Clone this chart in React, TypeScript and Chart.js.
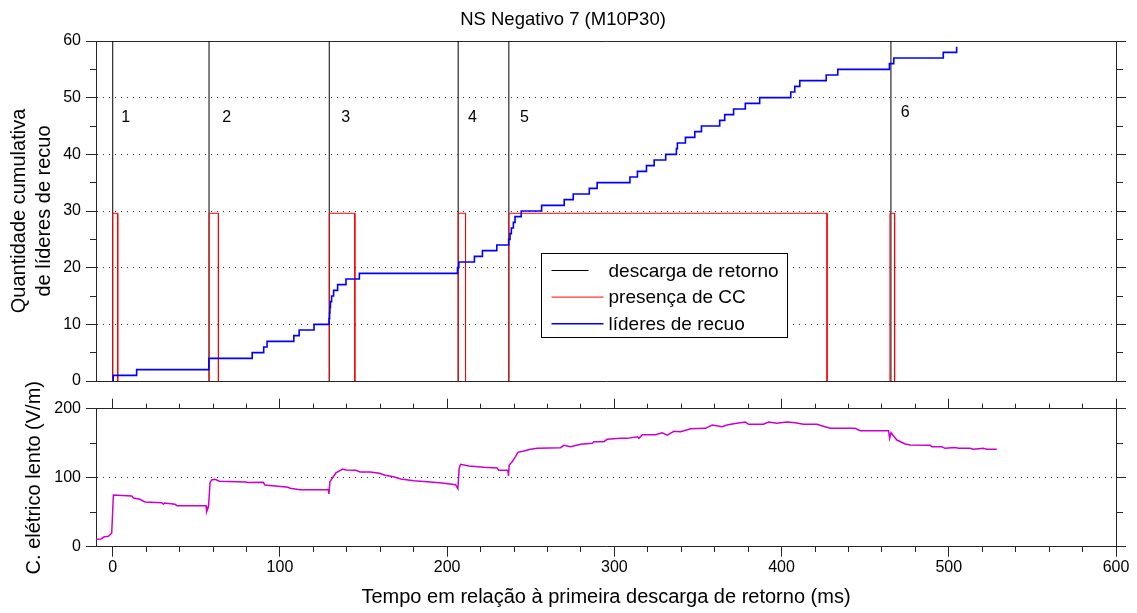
import React, { useEffect, useRef } from 'react';
import { Chart, registerables } from 'chart.js';

Chart.register(...registerables);

const FONT = "'Liberation Sans', Arial, Helvetica, sans-serif";
const INK = '#000000';
const FRAME = '#262626';
const GRID = '#303030';
const CLEAR = 'rgba(0,0,0,0)';

// ---------- data ----------
const chartTitle = 'NS Negativo 7 (M10P30)';
const timeMin = -10;
const timeMax = 600;
const countMin = 0;
const countMax = 60;
const fieldMin = 0;
const fieldMax = 200;

// return strokes (ms)
const strokeTimes = [0, 57.6, 129.5, 206.6, 236.9, 465.4];
const strokeNames = ['1', '2', '3', '4', '5', '6'];
const strokeNameTimes = [7.8, 68.1, 139.3, 215.2, 246.3, 474.0];
const strokeNameLevels = [46.5, 46.5, 46.5, 46.5, 46.5, 47.4];

// continuing current intervals (ms)
const ccStarts = [0, 57.6, 129.5, 206.6, 236.9, 464.8];
const ccEnds = [3.0, 63.2, 144.8, 211.0, 427.2, 467.6];
const ccLevel = 29.6;

// cumulative recoil leaders
const leaderTimes = [
  0, 0.3, 14.3, 57.5, 83.4, 90.3, 92.3, 108.3, 111.5, 120.4, 129.4, 129.7, 129.9, 130.2, 130.9,
  132.1, 134.5, 139.5, 147.5, 206.2, 207.0, 216.3, 221.1, 229.7, 236.8, 237.6, 238.4, 239.6,
  240.6, 244.3, 256.5, 270.0, 275.4, 285.0, 289.7, 309.3, 313.8, 319.2, 323.8, 330.7, 337.1,
  337.7, 342.5, 348.1, 352.1, 363.0, 366.0, 371.3, 378.3, 386.9, 405.5, 407.9, 410.9, 426.7,
  433.6, 464.5, 467.1, 496.7, 504.7,
];
const leaderCounts = [
  0, 1, 2, 4, 5, 6, 7, 8, 9, 10, 11, 12, 13, 14, 15,
  16, 17, 18, 19, 20, 21, 22, 23, 24, 25, 26, 27, 28,
  29, 30, 31, 32, 33, 34, 35, 36, 37, 38, 39, 40, 41,
  42, 43, 44, 45, 46, 47, 48, 49, 50, 51, 52, 53, 54,
  55, 56, 57, 58, 59,
];

// slow electric field (V/m)
const fieldTimes = [
  -10, -7, -5, -2.6, -0.6, 0.4,
  11.4, 12.4, 16.3, 19.3, 29.3, 30.3, 31.0, 37.3, 38.4, 55.8, 56.2, 57.3,
  58.2, 59.2, 61.2, 63.8, 79.7, 80.5, 90.0, 91.0, 105.0, 106.0, 112.0, 128.9, 129.3,
  129.9, 131.9, 133.5, 137.5, 139.5, 145.5, 147.9, 153.9, 159.5, 162.9, 167.9, 172.3,
  180.1, 188.1, 197.0, 205.0, 206.4, 207.2, 208.0, 213.0, 222.0, 229.9, 230.9, 236.3, 236.7,
  237.1, 238.9, 240.9, 242.3, 245.9, 249.9, 253.9, 267.8, 269.8, 273.8, 279.8, 286.8, 287.8,
  293.7, 295.7, 303.7, 307.7, 313.7, 314.7, 316.7, 324.6, 328.6, 331.6, 335.6, 339.6, 345.6,
  354.5, 358.5, 364.4, 367.4, 371.4, 378.3, 380.3, 389.2, 392.2, 397.2, 403.2, 408.1, 413.1,
  421.1, 424.0, 429.0, 444.0, 447.0, 454.0, 455.0, 464.0, 464.6, 465.4, 469.0, 473.9, 476.9,
  488.9, 489.9, 495.8, 497.8, 503.8, 505.8, 512.8, 514.8, 520.7, 522.7, 528.7,
];
const fieldValues = [
  10.7, 11.2, 14.3, 15.0, 19.5, 75.0,
  73.5, 70.6, 68.7, 64.8, 63.8, 61.5, 63.3, 61.4, 59.5, 59.5, 50.7, 58.0,
  92.8, 96.7, 97.6, 94.8, 93.8, 93.0, 93.3, 89.4, 86.1, 84.6, 82.6, 82.6, 76.4,
  94.2, 101.4, 107.2, 112.6, 111.2, 110.7, 108.3, 108.3, 106.4, 103.5, 101.4, 98.1,
  95.7, 94.2, 92.3, 89.9, 84.1, 113.6, 119.4, 117.0, 115.1, 114.1, 110.7, 110.7, 102.5,
  118.4, 123.2, 130.4, 136.8, 138.7, 141.2, 142.6, 143.5, 146.9, 144.9, 148.4, 149.9, 152.2,
  152.2, 155.6, 157.1, 157.0, 159.4, 157.0, 162.3, 162.3, 165.2, 161.8, 167.2, 166.7, 171.0,
  171.5, 176.4, 173.9, 176.4, 178.3, 180.7, 177.4, 177.4, 180.7, 178.8, 180.7, 179.6, 177.4,
  177.4, 175.4, 171.6, 171.6, 168.1, 168.1, 168.0, 168.0, 157.1, 165.2, 154.6, 148.8, 147.4,
  146.9, 144.9, 144.9, 142.6, 143.8, 142.6, 142.6, 141.2, 142.6, 141.2, 141.2,
];

const seriesLabels = ['descarga de retorno', 'presença de CC', 'líderes de recuo'];
const countAxisTitle = ['Quantidade cumulativa', 'de líderes de recuo'];
const fieldAxisTitle = 'C. elétrico lento (V/m)';
const timeAxisTitle = 'Tempo em relação à primeira descarga de retorno (ms)';

// ---------- helpers ----------
const isMult = (v: any, m: number) => Math.abs(Number(v) / m - Math.round(Number(v) / m)) < 1e-6;

// outer-first tick lines (left / top) vs inner-first (right / bottom)
const minorDash = (outerFirst: boolean, len: number, short: number) =>
  outerFirst ? [0, len - short, short, 300] : [short, 300];

function frameTicks(major: number, outerFirst: boolean, len: number, short: number) {
  return (c: any) => (c.tick && isMult(c.tick.value, major) ? [] : minorDash(outerFirst, len, short));
}

const strokeData: any[] = [];
strokeTimes.forEach((t) => {
  strokeData.push({ x: t, y: countMin }, { x: t, y: countMax }, { x: t, y: null });
});
const ccData: any[] = [];
ccStarts.forEach((s, i) => {
  ccData.push({ x: s, y: 0 }, { x: s, y: ccLevel }, { x: ccEnds[i], y: ccLevel }, { x: ccEnds[i], y: 0 }, { x: ccEnds[i], y: null });
});
const leaderData = leaderTimes.map((t, i) => ({ x: t, y: leaderCounts[i] }));
const fieldData = fieldTimes.map((t, i) => ({ x: t, y: fieldValues[i] }));

const strokeNamePlugin = {
  id: 'strokeNames',
  afterDatasetsDraw(chart: any) {
    const { ctx, scales } = chart;
    ctx.save();
    ctx.font = `16px ${FONT}`;
    ctx.fillStyle = INK;
    ctx.textAlign = 'center';
    ctx.textBaseline = 'middle';
    strokeNames.forEach((n, i) => {
      ctx.fillText(n, scales.x.getPixelForValue(strokeNameTimes[i]), scales.y.getPixelForValue(strokeNameLevels[i]));
    });
    ctx.restore();
  },
};

const boxLegendPlugin = {
  id: 'boxLegend',
  afterDatasetsDraw(chart: any) {
    const { ctx, chartArea: a } = chart;
    const x0 = Math.round(a.left + 445) + 0.5;
    const y0 = Math.round(a.top + 212) + 0.5;
    const w = 246;
    const h = 84;
    ctx.save();
    ctx.fillStyle = '#ffffff';
    ctx.fillRect(x0, y0, w, h);
    ctx.strokeStyle = INK;
    ctx.lineWidth = 1;
    ctx.strokeRect(x0, y0, w, h);
    ctx.font = `19px ${FONT}`;
    ctx.textBaseline = 'middle';
    ctx.textAlign = 'left';
    const sampleEnds = [47, 62, 62];
    chart.data.datasets.forEach((ds: any, i: number) => {
      const y = y0 + 17 + i * 26.6;
      ctx.strokeStyle = ds.borderColor;
      ctx.lineWidth = ds.borderWidth;
      ctx.beginPath();
      ctx.moveTo(x0 + 10, y);
      ctx.lineTo(x0 + sampleEnds[i], y);
      ctx.stroke();
      ctx.fillStyle = INK;
      ctx.fillText(ds.label, x0 + 67, y + 1);
    });
    ctx.restore();
  },
};

function timeAxisBare(position: string) {
  return {
    type: 'linear',
    position,
    display: true,
    min: timeMin,
    max: timeMax,
    ticks: { display: false },
    grid: { display: false, drawTicks: false },
    border: { display: true, color: FRAME, width: 1 },
  };
}

const BOTTOM_TOP = 360;
const BOTTOM_H = 613 - BOTTOM_TOP;

export default function App() {
  const topRef = useRef<HTMLCanvasElement | null>(null);
  const botRef = useRef<HTMLCanvasElement | null>(null);

  useEffect(() => {
    Chart.defaults.font.family = FONT;
    Chart.defaults.color = INK;

    const common: any = {
      responsive: false,
      animation: false,
      events: [],
      plugins: { legend: { display: false }, tooltip: { enabled: false } },
    };

    const top = new Chart(topRef.current as HTMLCanvasElement, {
      type: 'line',
      data: {
        datasets: [
          {
            label: seriesLabels[0],
            data: strokeData,
            borderColor: '#000000',
            borderWidth: 1,
            pointRadius: 0,
            order: 2,
            xAxisID: 'x',
            yAxisID: 'y',
          },
          {
            label: seriesLabels[1],
            data: ccData,
            borderColor: '#ff0000',
            borderWidth: 1,
            pointRadius: 0,
            order: 1,
            xAxisID: 'x',
            yAxisID: 'y',
          },
          {
            label: seriesLabels[2],
            data: leaderData,
            borderColor: '#0000ff',
            borderWidth: 1.6,
            pointRadius: 0,
            stepped: 'before',
            order: 0,
            xAxisID: 'x',
            yAxisID: 'y',
          },
        ],
      } as any,
      options: {
        ...common,
        layout: { padding: { left: 0, right: 11, top: 0, bottom: 19 } },
        plugins: {
          ...common.plugins,
          title: {
            display: true,
            text: chartTitle,
            color: INK,
            font: { size: 18.5, weight: 'normal' },
            padding: { top: 9.2, bottom: 9.6 },
          },
        },
        scales: {
          x: timeAxisBare('bottom'),
          x2: timeAxisBare('top'),
          y: {
            type: 'linear',
            position: 'left',
            min: countMin,
            max: countMax,
            afterFit: (s: any) => {
              s.width = 96;
            },
            ticks: {
              stepSize: 5,
              autoSkip: false,
              padding: 5,
              color: INK,
              font: { size: 16 },
              callback: (v: any) => (isMult(v, 10) ? String(v) : ''),
            },
            grid: {
              display: true,
              drawOnChartArea: true,
              drawTicks: true,
              tickLength: 10,
              lineWidth: 1,
              color: (c: any) => {
                const v = c.tick ? c.tick.value : 0;
                return isMult(v, 10) && v > countMin && v < countMax ? GRID : CLEAR;
              },
              tickColor: FRAME,
              tickWidth: 1,
              tickBorderDash: frameTicks(10, true, 10, 6),
            },
            border: { display: true, color: FRAME, width: 1, dash: [1, 5] },
            title: {
              display: true,
              text: countAxisTitle,
              color: INK,
              font: { size: 20, lineHeight: 1.225 },
              padding: { top: 7.25, bottom: 0 },
            },
          },
          y2: {
            type: 'linear',
            position: 'right',
            display: true,
            min: countMin,
            max: countMax,
            ticks: { display: false, stepSize: 5 },
            grid: {
              display: true,
              drawOnChartArea: false,
              drawTicks: true,
              tickLength: 10,
              color: FRAME,
              tickColor: FRAME,
              tickWidth: 1,
              tickBorderDash: frameTicks(10, false, 10, 6),
            },
            border: { display: true, color: FRAME, width: 1 },
          },
        },
      } as any,
      plugins: [strokeNamePlugin, boxLegendPlugin],
    });

    const bottom = new Chart(botRef.current as HTMLCanvasElement, {
      type: 'line',
      data: {
        datasets: [
          {
            label: fieldAxisTitle,
            data: fieldData,
            borderColor: '#cc00cc',
            borderWidth: 1.5,
            pointRadius: 0,
            tension: 0,
            xAxisID: 'x',
            yAxisID: 'y',
          },
        ],
      } as any,
      options: {
        ...common,
        layout: { padding: { left: 0, right: 11, top: 408.7 - BOTTOM_TOP - 10, bottom: 0 } },
        scales: {
          x: {
            type: 'linear',
            position: 'bottom',
            min: timeMin,
            max: timeMax,
            afterFit: (s: any) => {
              s.height = 66.3;
            },
            ticks: {
              stepSize: 20,
              autoSkip: false,
              maxRotation: 0,
              includeBounds: false,
              padding: 1,
              color: INK,
              font: { size: 16 },
              callback: (v: any) => (isMult(v, 100) ? String(v) : ''),
            },
            grid: {
              display: true,
              drawOnChartArea: false,
              drawTicks: true,
              tickLength: 10,
              color: FRAME,
              tickColor: FRAME,
              tickWidth: 1,
              tickBorderDash: frameTicks(100, false, 10, 5),
            },
            border: { display: true, color: FRAME, width: 1 },
            title: {
              display: true,
              text: timeAxisTitle,
              color: INK,
              font: { size: 20 },
              padding: { top: 0, bottom: 4 },
            },
          },
          x2: {
            type: 'linear',
            position: 'top',
            display: true,
            min: timeMin,
            max: timeMax,
            ticks: { display: false, stepSize: 20, includeBounds: false },
            grid: {
              display: true,
              drawOnChartArea: false,
              drawTicks: true,
              tickLength: 10,
              color: FRAME,
              tickColor: FRAME,
              tickWidth: 1,
              tickBorderDash: frameTicks(100, true, 10, 5),
            },
            border: { display: true, color: FRAME, width: 1 },
          },
          y: {
            type: 'linear',
            position: 'left',
            min: fieldMin,
            max: fieldMax,
            afterFit: (s: any) => {
              s.width = 96;
            },
            ticks: {
              stepSize: 50,
              autoSkip: false,
              padding: 5,
              color: INK,
              font: { size: 16 },
              callback: (v: any) => (isMult(v, 100) ? String(v) : ''),
            },
            grid: {
              display: true,
              drawOnChartArea: true,
              drawTicks: true,
              tickLength: 10,
              lineWidth: 1,
              color: (c: any) => {
                const v = c.tick ? c.tick.value : 0;
                return isMult(v, 100) && v > fieldMin && v < fieldMax ? GRID : CLEAR;
              },
              tickColor: FRAME,
              tickWidth: 1,
              tickBorderDash: frameTicks(100, true, 10, 6),
            },
            border: { display: true, color: FRAME, width: 1, dash: [1, 5] },
            title: {
              display: true,
              text: fieldAxisTitle,
              color: INK,
              font: { size: 20 },
              padding: { top: 22.5, bottom: 0 },
            },
          },
          y2: {
            type: 'linear',
            position: 'right',
            display: true,
            min: fieldMin,
            max: fieldMax,
            ticks: { display: false, stepSize: 50 },
            grid: {
              display: true,
              drawOnChartArea: false,
              drawTicks: true,
              tickLength: 10,
              color: FRAME,
              tickColor: FRAME,
              tickWidth: 1,
              tickBorderDash: frameTicks(100, false, 10, 6),
            },
            border: { display: true, color: FRAME, width: 1 },
          },
        },
      } as any,
    });

    return () => {
      top.destroy();
      bottom.destroy();
    };
  }, []);

  return (
    <div style={{ position: 'absolute', left: 0, top: 0, width: 1137, height: 613, background: '#ffffff', overflow: 'hidden' }}>
      <canvas
        ref={topRef}
        width={1137}
        height={400}
        style={{ position: 'absolute', left: 0, top: 0, width: 1137, height: 400 }}
      />
      <canvas
        ref={botRef}
        width={1137}
        height={BOTTOM_H}
        style={{ position: 'absolute', left: 0, top: BOTTOM_TOP, width: 1137, height: BOTTOM_H }}
      />
    </div>
  );
}
